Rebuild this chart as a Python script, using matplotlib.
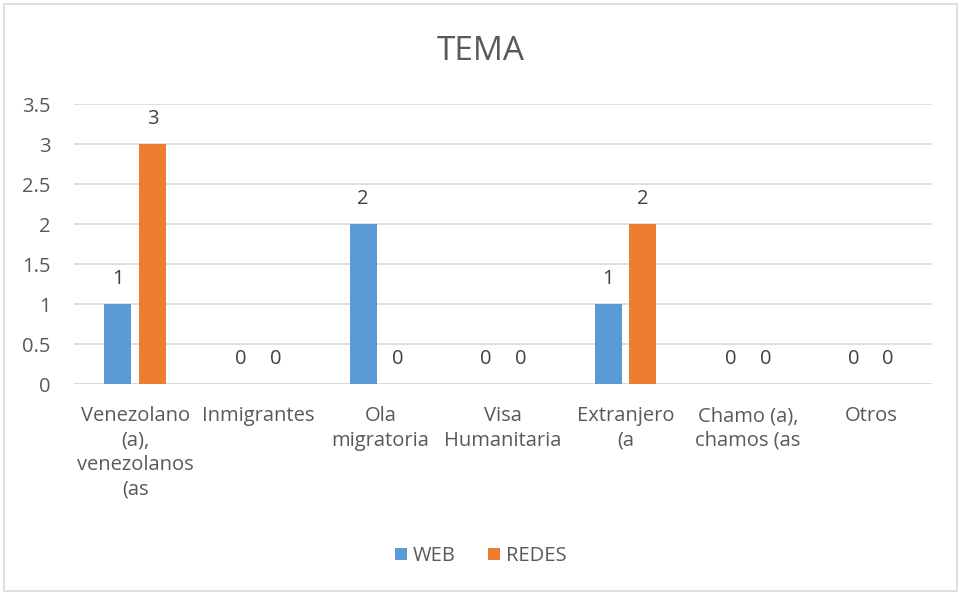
import numpy as np
import matplotlib
matplotlib.use('Agg')
import matplotlib.pyplot as plt
from matplotlib.patches import Rectangle

plt.rcParams['font.family'] = ['Open Sans', 'DejaVu Sans']

categories = ['Venezolano\n(a),\nvenezolanos\n(as', 'Inmigrantes', 'Ola\nmigratoria',
              'Visa\nHumanitaria', 'Extranjero\n(a', 'Chamo (a),\nchamos (as', 'Otros']
web = [1, 0, 2, 0, 1, 0, 0]
redes = [3, 0, 0, 0, 2, 0, 0]

blue = '#5B9BD5'
orange = '#ED7D31'
txt = '#595959'
fs = 14.5

fig = plt.figure(figsize=(9.61, 5.95), dpi=100)
ax = fig.add_axes([74 / 961, 1 - 384 / 595, (932 - 74) / 961, (384 - 104) / 595])

x = np.arange(len(categories))
w = 0.22
off = 0.142
b1 = ax.bar(x - off, web, w, color=blue, label='WEB', zorder=3)
b2 = ax.bar(x + off, redes, w, color=orange, label='REDES', zorder=3)

for bars, vals in ((b1, web), (b2, redes)):
    for r, v in zip(bars, vals):
        ax.annotate(str(v), (r.get_x() + r.get_width() / 2, v), xytext=(0, 18),
                    textcoords='offset points', ha='center', va='center',
                    fontsize=fs, color='#404040')

ax.set_xlim(-0.5, len(categories) - 0.5)
ax.set_ylim(0, 3.5)
ax.set_yticks(np.arange(0, 3.51, 0.5))
ax.set_yticklabels(['0', '0.5', '1', '1.5', '2', '2.5', '3', '3.5'])
ax.set_xticks(x)
ax.set_xticklabels(categories, linespacing=1.3, va='top')
ax.tick_params(axis='both', length=0, colors=txt, labelsize=fs)
ax.tick_params(axis='x', pad=16)
ax.tick_params(axis='y', pad=17)
ax.grid(axis='y', color='#D9D9D9', linewidth=1.2, zorder=0)
for s in ax.spines.values():
    s.set_visible(False)
ax.axhline(0, color='#D9D9D9', linewidth=1.2, zorder=2)

fig.text(0.5, 1 - 52 / 595, 'TEMA', ha='center', va='center', fontsize=24, color=txt)

fig.legend(handles=[b1, b2], loc='center', bbox_to_anchor=(0.5, 1 - 556 / 595),
           ncol=2, frameon=False, fontsize=fs, handlelength=0.6, handleheight=0.6,
           handletextpad=0.3, columnspacing=1.6, labelcolor=txt)

fig.patches.append(Rectangle((4 / 961, 4 / 595), 953 / 961, 587 / 595, transform=fig.transFigure,
                             fill=False, edgecolor='#D9D9D9', linewidth=1.2))

fig.savefig('out.png', dpi=100, facecolor='white')
